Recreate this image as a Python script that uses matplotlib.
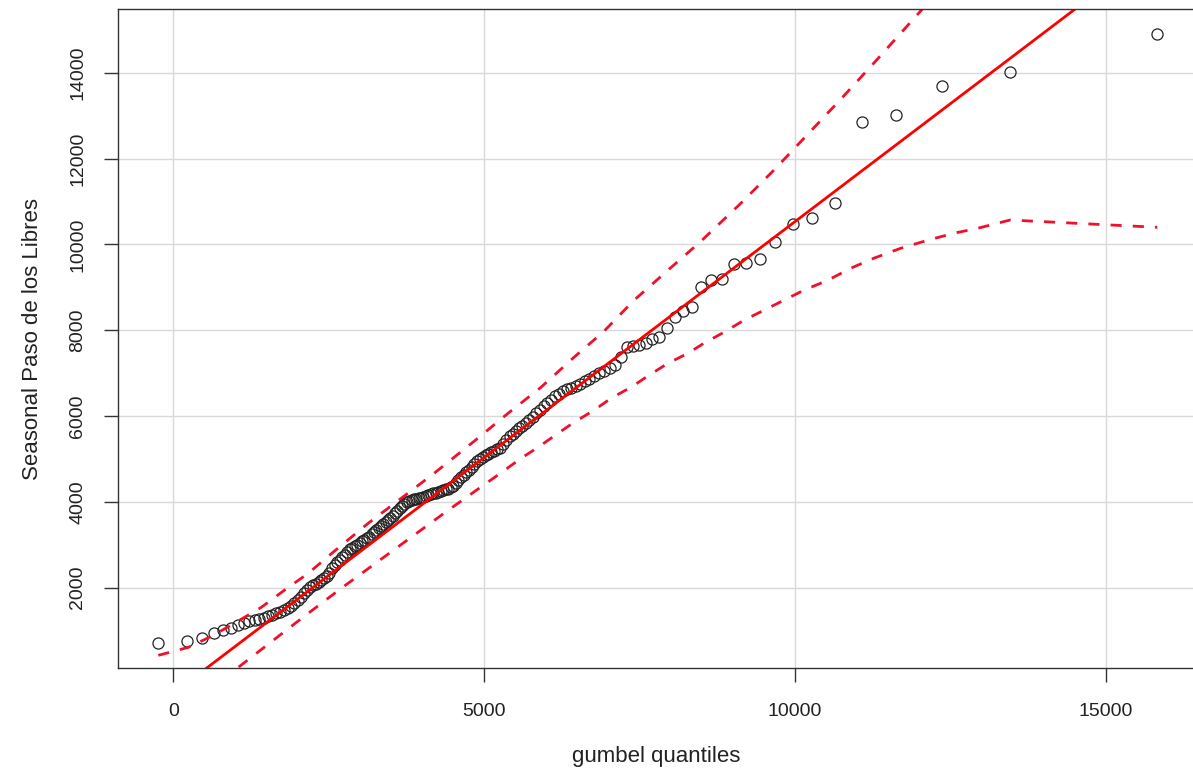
import matplotlib
matplotlib.use("Agg")
import matplotlib.pyplot as plt

# gumbel plotting positions (x) and sorted seasonal maxima (y)
gumbel_q = [-239, 217, 468, 651, 798, 924, 1034, 1133, 1224, 1307,
            1386, 1460, 1530, 1596, 1660, 1722, 1781, 1838, 1893, 1947,
            2000, 2051, 2101, 2150, 2198, 2245, 2291, 2337, 2381, 2426,
            2469, 2512, 2555, 2597, 2639, 2680, 2721, 2761, 2801, 2841,
            2881, 2920, 2959, 2999, 3037, 3076, 3114, 3152, 3191, 3229,
            3267, 3304, 3342, 3380, 3418, 3456, 3493, 3531, 3569, 3606,
            3644, 3682, 3720, 3758, 3796, 3834, 3872, 3910, 3948, 3987,
            4025, 4064, 4103, 4142, 4181, 4221, 4260, 4300, 4340, 4381,
            4421, 4462, 4503, 4544, 4586, 4628, 4671, 4714, 4757, 4800,
            4845, 4889, 4933, 4979, 5025, 5071, 5118, 5165, 5213, 5261,
            5310, 5359, 5410, 5461, 5512, 5565, 5618, 5672, 5727, 5783,
            5841, 5898, 5958, 6018, 6079, 6142, 6206, 6271, 6337, 6407,
            6476, 6547, 6621, 6696, 6774, 6854, 6936, 7021, 7109, 7200,
            7294, 7391, 7493, 7598, 7707, 7822, 7944, 8071, 8206, 8346,
            8498, 8659, 8831, 9017, 9219, 9441, 9689, 9965, 10282, 10647,
            11081, 11632, 12361, 13465, 15832]

caudal = [700, 745, 820, 930, 1010, 1060, 1130, 1180, 1210, 1240,
          1265, 1300, 1330, 1360, 1400, 1440, 1480, 1530, 1580, 1650,
          1720, 1790, 1870, 1950, 2010, 2050, 2090, 2130, 2180, 2230,
          2280, 2350, 2450, 2530, 2590, 2650, 2710, 2770, 2830, 2890,
          2930, 2970, 3000, 3040, 3080, 3110, 3150, 3190, 3240, 3290,
          3340, 3390, 3440, 3480, 3530, 3570, 3620, 3680, 3730, 3790,
          3860, 3910, 3950, 3990, 4030, 4045, 4060, 4075, 4085, 4100,
          4120, 4140, 4160, 4180, 4195, 4210, 4225, 4250, 4270, 4290,
          4310, 4335, 4380, 4440, 4510, 4570, 4630, 4690, 4750, 4820,
          4880, 4940, 4990, 5040, 5080, 5120, 5150, 5190, 5220, 5260,
          5350, 5450, 5530, 5590, 5650, 5710, 5770, 5830, 5900, 5970,
          6070, 6150, 6230, 6300, 6380, 6460, 6520, 6580, 6620, 6660,
          6700, 6740, 6810, 6870, 6940, 7010, 7060, 7120, 7180, 7370,
          7600, 7625, 7650, 7695, 7790, 7835, 8045, 8300, 8440, 8535,
          9010, 9165, 9190, 9550, 9560, 9655, 10060, 10480, 10620, 10970,
          12850, 13010, 13690, 14010, 14900]

# fitted line y = a + b x
line_a = -466
line_b = 1.0995

# upper confidence band
upper_x = [-241, 241, 611, 981, 1415, 1785, 2170, 2588, 3135, 3666,
           4196, 4839, 5386, 5916, 6447, 6929, 7412, 7958, 8489, 9132,
           9662, 10209, 10739, 11270, 11993, 12361]
upper_y = [420, 606, 863, 1166, 1539, 1936, 2332, 2845, 3498, 4081,
           4664, 5410, 6063, 6670, 7369, 7975, 8698, 9398, 10074, 10960,
           11730, 12570, 13385, 14225, 15391, 16000]

# lower confidence band
lower_x = [772, 1045, 1576, 2106, 2701, 3296, 3826, 4420, 5000, 5273,
           5595, 5868, 6190, 6447, 6768, 7042, 7364, 7653, 7958, 8280,
           8537, 8859, 9180, 9566, 9887, 10145, 10530, 10900, 11270,
           11704, 12138, 12556, 12942, 13465, 15832]
lower_y = [-177, 140, 735, 1329, 1982, 2612, 3172, 3801, 4396, 4676,
           5014, 5270, 5597, 5853, 6133, 6413, 6670, 6949, 7229, 7462,
           7696, 7952, 8232, 8512, 8745, 8932, 9165, 9445, 9678,
           9911, 10098, 10261, 10377, 10570, 10400]

x_ticks = [0, 5000, 10000, 15000]
y_ticks = [2000, 4000, 6000, 8000, 10000, 12000, 14000]

plt.rcParams["font.family"] = ["Liberation Sans", "DejaVu Sans"]

fig = plt.figure(figsize=(11.93, 7.84), dpi=100)
ax = fig.add_axes([118 / 1193, 116 / 784, 1077 / 1193, 659 / 784])

ax.set_xlim(-890, 16440)
ax.set_ylim(125, 15490)
ax.set_xticks(x_ticks)
ax.set_yticks(y_ticks)
ax.set_xticklabels([str(v) for v in x_ticks])
ax.set_yticklabels([str(v) for v in y_ticks], rotation=90, va="center")

ax.grid(True, color="#d9d9d9", linewidth=1)
ax.set_axisbelow(True)

ax.plot(gumbel_q, caudal, linestyle="none", marker="o", markersize=8,
        markerfacecolor="none", markeredgecolor="#222222", markeredgewidth=0.9)

ax.axline((0, line_a), slope=line_b, color="#ff0000", linewidth=2)
ax.plot(upper_x, upper_y, color="#f0102a", linewidth=2, dashes=(4, 4))
ax.plot(lower_x, lower_y, color="#f0102a", linewidth=2, dashes=(4, 4))

for side in ["left", "bottom", "top"]:
    ax.spines[side].set_color("#333333")
    ax.spines[side].set_linewidth(1)
ax.spines["right"].set_visible(False)

ax.tick_params(axis="both", direction="out", length=10, width=1,
               color="#333333", labelsize=14, labelcolor="#222222")
ax.tick_params(axis="x", pad=15)
ax.tick_params(axis="y", pad=13)

ax.set_xlabel("gumbel quantiles", fontsize=16, color="#222222", labelpad=19)
ax.set_ylabel("Seasonal Paso de los Libres", fontsize=16, color="#222222",
              labelpad=19)

fig.savefig("out.png", dpi=100)
